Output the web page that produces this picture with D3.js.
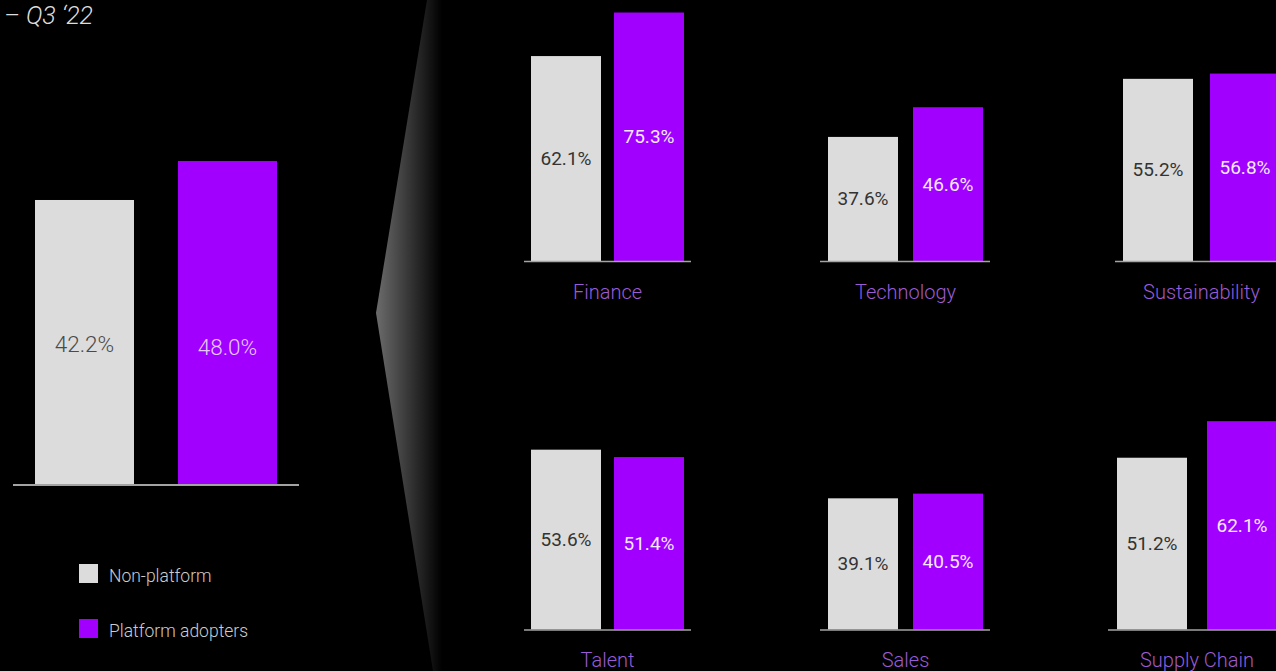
<!DOCTYPE html>
<html>
<head>
<meta charset="utf-8">
<script src="https://cdn.jsdelivr.net/npm/d3@7"></script>
<style>
  html, body { margin: 0; padding: 0; background: #000; overflow: hidden; }
  svg { display: block; font-family: Roboto, "Noto Sans", sans-serif; }
</style>
</head>
<body>
<svg id="chart" width="1276" height="671"></svg>
<script>
// ---- data ----
const titleText = "– Q3 ‘22";
const series = ["Non-platform", "Platform adopters"];
const overallValues = [42.2, 48.0];
const categories = ["Finance", "Technology", "Sustainability", "Talent", "Sales", "Supply Chain"];
const nonPlatform = [62.1, 37.6, 55.2, 53.6, 39.1, 51.2];
const platform = [75.3, 46.6, 56.8, 51.4, 40.5, 62.1];

// ---- styles / layout ----
const barColors = ["#dcdcdc", "#a100ff"];
const mainLabelColors = ["#4a4a4a", "#e6c8ff"];
const smallLabelColors = ["#333333", "#f4eaff"];
const catColor = "#9b5bd6";
const axisColor = "#a3a3a3";

const svg = d3.select("#chart");
svg.append("rect").attr("width", 1276).attr("height", 671).attr("fill", "#000");

// wedge with gradient
const defs = svg.append("defs");
const grad = defs.append("linearGradient").attr("id", "wedgeGrad")
  .attr("gradientUnits", "userSpaceOnUse")
  .attr("x1", 376).attr("y1", 0).attr("x2", 442).attr("y2", 0);
grad.append("stop").attr("offset", 0).attr("stop-color", "#6c6c6c");
grad.append("stop").attr("offset", 1).attr("stop-color", "#000000");
svg.append("path")
  .attr("d", "M427,0 L376,313 L433,671 L460,671 L460,0 Z")
  .attr("fill", "url(#wedgeGrad)");

// title
svg.append("text").attr("x", 4).attr("y", 24)
  .attr("font-size", 25).attr("font-style", "italic").attr("font-weight", 300)
  .attr("fill", "#dddddd").text(titleText);

// ---- main chart ----
const xMain = d3.scaleBand().domain(series).range([35, 277]).paddingInner(44 / 143).paddingOuter(0);
const yMain = d3.scaleLinear().domain([0, 100]).range([484, 484 - 673]);
const gMain = svg.append("g");
gMain.selectAll("rect.bar").data(overallValues).join("rect")
  .attr("x", (d, i) => xMain(series[i]))
  .attr("y", d => yMain(d))
  .attr("width", xMain.bandwidth())
  .attr("height", d => yMain(0) - yMain(d))
  .attr("fill", (d, i) => barColors[i]);
const mainLabelY = yMain(d3.min(overallValues) / 2);
gMain.selectAll("text.val").data(overallValues).join("text")
  .attr("x", (d, i) => xMain(series[i]) + xMain.bandwidth() / 2)
  .attr("y", (d, i) => mainLabelY + 2 + i * 3)
  .attr("text-anchor", "middle").attr("dominant-baseline", "central")
  .attr("font-size", 22.5).attr("font-weight", 300)
  .attr("fill", (d, i) => mainLabelColors[i])
  .text(d => d.toFixed(1) + "%");
gMain.append("line").attr("x1", 13).attr("x2", 299)
  .attr("y1", yMain(0) + 1).attr("y2", yMain(0) + 1)
  .attr("stroke", axisColor).attr("stroke-width", 2);

// legend
const legend = svg.append("g");
series.forEach((s, i) => {
  legend.append("rect").attr("x", 79).attr("y", 564 + i * 55)
    .attr("width", 19).attr("height", 19).attr("fill", barColors[i]);
  legend.append("text").attr("x", 109).attr("y", 582 + i * 55)
    .attr("font-size", 17.5).attr("font-weight", 300).attr("fill", "#cccccc").text(s);
});

// ---- small multiples ----
const panels = [
  { x: 531, gap: 13, axL: 524, axR: 691, row: 0 },
  { x: 828, gap: 15, axL: 820, axR: 990, row: 0 },
  { x: 1123, gap: 17, axL: 1115, axR: 1290, row: 0 },
  { x: 531, gap: 13, axL: 524, axR: 691, row: 1 },
  { x: 828, gap: 15, axL: 820, axR: 990, row: 1 },
  { x: 1117, gap: 20, axL: 1108, axR: 1290, row: 1 }
];
const rows = [
  d3.scaleLinear().domain([0, 100]).range([261, 261 - 330]),
  d3.scaleLinear().domain([0, 100]).range([629.5, 629.5 - 335.5])
];
const barW = 70;

categories.forEach((cat, ci) => {
  const p = panels[ci];
  const y = rows[p.row];
  const vals = [nonPlatform[ci], platform[ci]];
  const x = d3.scaleBand().domain(series)
    .range([p.x, p.x + 2 * barW + p.gap])
    .paddingInner(p.gap / (barW + p.gap)).paddingOuter(0);
  const g = svg.append("g");
  g.selectAll("rect").data(vals).join("rect")
    .attr("x", (d, i) => x(series[i]))
    .attr("y", d => y(d))
    .attr("width", x.bandwidth())
    .attr("height", d => y(0) - y(d))
    .attr("fill", (d, i) => barColors[i]);
  g.selectAll("text.val").data(vals).join("text")
    .attr("class", "val")
    .attr("x", (d, i) => x(series[i]) + x.bandwidth() / 2)
    .attr("y", d => y(d / 2))
    .attr("text-anchor", "middle").attr("dominant-baseline", "central")
    .attr("font-size", 19).attr("font-weight", 400)
    .attr("fill", (d, i) => smallLabelColors[i])
    .text(d => d.toFixed(1) + "%");
  g.append("line").attr("x1", p.axL).attr("x2", p.axR)
    .attr("y1", y(0) + 0.5).attr("y2", y(0) + 0.5)
    .attr("stroke", axisColor).attr("stroke-width", 1.5);
  const cx = (x.range()[0] + x.range()[1]) / 2;
  g.append("text").attr("x", cx).attr("y", y(0) + 37.5)
    .attr("text-anchor", "middle")
    .attr("font-size", 20).attr("font-weight", 300)
    .attr("fill", catColor).text(cat);
});
</script>
</body>
</html>
